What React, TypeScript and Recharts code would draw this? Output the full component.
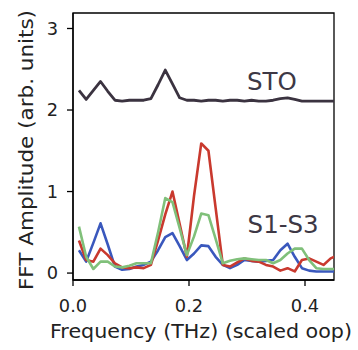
import React from 'react';
import { LineChart, Line, XAxis, YAxis, ReferenceArea, ReferenceDot } from 'recharts';

const freqs = [0.0103, 0.0227, 0.0351, 0.0475, 0.0599, 0.0723, 0.0847, 0.0971, 0.1095, 0.1219, 0.1343, 0.1467, 0.1591, 0.1715, 0.1839, 0.1963, 0.2087, 0.2211, 0.2335, 0.2459, 0.2583, 0.2707, 0.2831, 0.2955, 0.3079, 0.3203, 0.3327, 0.3451, 0.3575, 0.3699, 0.3823, 0.3947, 0.4071, 0.4195, 0.4319, 0.4443, 0.4567];
const sto = [2.24, 2.13, 2.24, 2.35, 2.23, 2.12, 2.11, 2.12, 2.12, 2.12, 2.14, 2.31, 2.49, 2.32, 2.15, 2.12, 2.12, 2.11, 2.12, 2.12, 2.11, 2.12, 2.12, 2.11, 2.12, 2.11, 2.11, 2.12, 2.14, 2.15, 2.13, 2.11, 2.11, 2.11, 2.11, 2.11, 2.11];
const s1 = [0.28, 0.14, 0.37, 0.61, 0.35, 0.08, 0.04, 0.05, 0.08, 0.1, 0.14, 0.28, 0.44, 0.49, 0.33, 0.16, 0.24, 0.34, 0.33, 0.2, 0.1, 0.06, 0.1, 0.16, 0.15, 0.14, 0.15, 0.16, 0.28, 0.36, 0.2, 0.06, 0.03, 0.02, 0.02, 0.02, 0.02];
const s2 = [0.4, 0.16, 0.14, 0.3, 0.22, 0.12, 0.07, 0.06, 0.07, 0.06, 0.1, 0.4, 0.72, 1.0, 0.6, 0.2, 0.95, 1.59, 1.5, 0.8, 0.1, 0.08, 0.13, 0.18, 0.15, 0.14, 0.1, 0.08, 0.03, 0.06, 0.02, 0.16, 0.18, 0.14, 0.1, 0.18, 0.22];
const s3 = [0.57, 0.2, 0.05, 0.14, 0.14, 0.08, 0.07, 0.09, 0.12, 0.12, 0.12, 0.5, 0.92, 0.87, 0.55, 0.22, 0.45, 0.73, 0.71, 0.42, 0.12, 0.15, 0.17, 0.18, 0.17, 0.16, 0.16, 0.12, 0.16, 0.24, 0.3, 0.3, 0.16, 0.06, 0.05, 0.05, 0.05];
const xTicks = [0, 0.2, 0.4];
const yTicks = [0, 1, 2, 3];
const xTitle = 'Frequency (THz) (scaled oop)';
const yTitle = 'FFT Amplitude (arb. units)';

const data = freqs.map((f, i) => ({ f, sto: sto[i], s1: s1[i], s2: s2[i], s3: s3[i] }));

const FONT = '"DejaVu Sans", sans-serif';
const X_DOMAIN: [number, number] = [0, 0.45];
const Y_DOMAIN: [number, number] = [-0.085, 3.19];

const annot = (text: string) => (props: any) => {
  const vb = props.viewBox || {};
  return (
    <text x={vb.x} y={vb.y} fill="#3d3845" fontSize={24.5} fontFamily={FONT}>
      {text}
    </text>
  );
};

const XTitle = (props: any) => {
  const vb = props.viewBox || {};
  const cx = vb.x + vb.width / 2 - 2.5;
  const by = vb.y + vb.height - 12;
  return (
    <text x={cx} y={by} textAnchor="middle" fill="#222" fontSize={19} fontFamily={FONT} textLength={302} lengthAdjust="spacingAndGlyphs">
      {xTitle}
    </text>
  );
};

const YTitle = (props: any) => {
  const vb = props.viewBox || {};
  const bx = vb.x + 33;
  const cy = vb.y + vb.height / 2 + 3.5;
  return (
    <text x={bx} y={cy} transform={`rotate(-90 ${bx} ${cy})`} textAnchor="middle" fill="#222" fontSize={19} fontFamily={FONT} textLength={280} lengthAdjust="spacingAndGlyphs">
      {yTitle}
    </text>
  );
};

export default function App() {
  return (
    <div style={{ position: 'absolute', left: 0, top: 0, width: 358, height: 350, background: '#fff' }}>
      <LineChart width={358} height={350} data={data} margin={{ top: 13, right: 24, bottom: 0, left: 0 }}>
        <XAxis
          dataKey="f"
          type="number"
          domain={X_DOMAIN}
          allowDataOverflow
          ticks={xTicks}
          tickFormatter={(v: number) => v.toFixed(1)}
          height={70}
          tickSize={6}
          tickMargin={13}
          axisLine={{ stroke: '#000', strokeWidth: 1.3 }}
          tickLine={{ stroke: '#000', strokeWidth: 1.3 }}
          tick={{ fill: '#222', fontSize: 17.8, fontFamily: FONT }}
          label={<XTitle />}
        />
        <YAxis
          type="number"
          domain={Y_DOMAIN}
          allowDataOverflow
          ticks={yTicks}
          width={73}
          tickSize={6}
          tickMargin={9}
          axisLine={{ stroke: '#000', strokeWidth: 1.3 }}
          tickLine={{ stroke: '#000', strokeWidth: 1.3 }}
          tick={{ fill: '#222', fontSize: 17.8, fontFamily: FONT }}
          label={<YTitle />}
        />
        <ReferenceArea x1={X_DOMAIN[0]} x2={X_DOMAIN[1]} y1={Y_DOMAIN[0]} y2={Y_DOMAIN[1]} fill="none" stroke="#000" strokeWidth={1.3} fillOpacity={0} ifOverflow="visible" />
        <Line dataKey="s1" stroke="#3a58bd" strokeWidth={2.6} dot={false} isAnimationActive={false} strokeLinejoin="round" />
        <Line dataKey="s2" stroke="#c9392e" strokeWidth={2.6} dot={false} isAnimationActive={false} strokeLinejoin="round" />
        <Line dataKey="s3" stroke="#80c07a" strokeWidth={2.6} dot={false} isAnimationActive={false} strokeLinejoin="round" />
        <Line dataKey="sto" stroke="#3b3340" strokeWidth={2.8} dot={false} isAnimationActive={false} strokeLinejoin="round" />
        <ReferenceDot x={0.3} y={2.243} r={0} fill="none" stroke="none" ifOverflow="visible" label={annot('STO')} />
        <ReferenceDot x={0.301} y={0.49} r={0} fill="none" stroke="none" ifOverflow="visible" label={annot('S1-S3')} />
      </LineChart>
    </div>
  );
}
